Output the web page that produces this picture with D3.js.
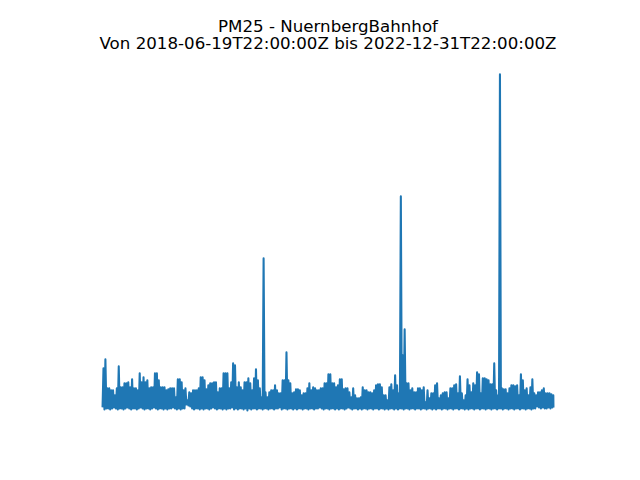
<!DOCTYPE html>
<html>
<head>
<meta charset="utf-8">
<script src="https://cdn.jsdelivr.net/npm/d3@7"></script>
<style>
  html, body { margin: 0; padding: 0; background: #fff; }
  svg { display: block; }
</style>
</head>
<body>
<svg id="chart" width="640" height="480"></svg>
<script>
// ---- data (weekly min / max of hourly PM2.5 readings) ----
const titleLines = ["PM25 - NuernbergBahnhof", "Von 2018-06-19T22:00:00Z bis 2022-12-31T22:00:00Z"];
const startDate = "2018-06-19T22:00:00Z";
const endDate = "2022-12-31T22:00:00Z";

const weeklyMax = [
  42,51,22,22,20,20,15,22,44,23,
  23,27,27,28,23,31,22,22,20,37,
  28,33,28,30,22,23,23,37,37,30,
  23,23,23,20,21,22,22,22,13,31,
  31,28,20,22,10,18,17,20,20,20,
  22,33,33,30,21,25,27,27,28,28,
  18,22,22,37,37,37,22,28,47,45,
  23,28,23,20,28,28,32,27,20,32,
  41,30,22,13,152,18,13,18,20,20,
  25,20,17,17,30,30,58,30,27,17,
  18,21,21,20,15,17,17,22,27,20,
  23,22,20,20,22,22,27,27,36,36,
  27,27,23,25,31,31,21,22,22,18,
  13,22,15,12,12,13,23,20,20,18,
  18,17,20,25,26,26,23,15,15,10,
  23,26,20,35,25,17,214,55,81,27,
  27,20,22,18,18,22,22,20,23,8,
  20,12,17,17,25,27,12,15,17,18,
  18,12,22,22,25,26,17,34,17,10,
  15,31,25,18,27,25,38,36,17,32,
  32,31,30,26,26,47,20,15,336,22,
  21,21,17,22,25,25,24,25,15,36,
  30,20,22,15,23,31,17,15,18,18,
  20,22,17,17,17,16,15
];

const weeklyMin = [
  3,1,2,2,1,2,3,2,1,2,
  2,1,2,3,2,1,2,2,1,2,
  3,2,1,2,2,1,2,3,2,1,
  2,2,1,2,1,2,2,3,2,1,
  2,1,2,2,6,5,4,2,1,2,
  2,1,2,1,2,2,1,2,3,2,
  1,2,2,1,2,1,2,2,3,1,
  2,1,2,2,1,2,0,2,1,2,
  2,1,2,2,1,2,2,1,2,2,
  1,2,2,3,1,2,2,1,2,2,
  1,2,1,2,2,1,2,2,1,2,
  2,1,2,2,3,2,1,2,2,1,
  2,2,1,2,1,2,2,1,2,3,
  2,1,2,2,1,2,1,2,2,1,
  2,2,1,2,2,1,2,2,1,2,
  1,2,2,1,2,1,2,2,1,2,
  2,1,2,2,1,2,2,1,2,2,
  1,2,2,1,2,1,2,2,1,2,
  2,1,2,2,1,2,2,1,2,2,
  1,2,1,2,2,1,2,2,1,2,
  2,1,2,2,1,2,2,1,2,2,
  1,2,2,1,2,2,1,2,2,1,
  2,2,1,2,2,1,2,2,4,3,
  2,3,2,2,3,2,3
];

// ---- build the series: each week contributes its low and its high ----
const t0 = new Date(startDate), t1 = new Date(endDate);
const DAY = 86400000;
const series = [];
weeklyMax.forEach((mx, i) => {
  const ws = new Date(t0.getTime() + i * 7 * DAY);
  series.push({ t: ws, v: weeklyMin[i] });
  series.push({ t: new Date(ws.getTime() + 3.5 * DAY), v: mx });
});
series.push({ t: t1, v: weeklyMin[weeklyMin.length - 1] });

// ---- layout (matplotlib-like axes box, axis hidden, 5% data margins) ----
const W = 640, H = 480;
const ax = { left: 0.125 * W, right: 0.9 * W, top: (1 - 0.88) * H, bottom: (1 - 0.11) * H };
const padX = (ax.right - ax.left) * 0.05 / 1.1;
const padY = (ax.bottom - ax.top) * 0.05 / 1.1;

const x = d3.scaleUtc()
  .domain(d3.extent(series, d => d.t))
  .range([ax.left + padX, ax.right - padX]);
const y = d3.scaleLinear()
  .domain(d3.extent(series, d => d.v))
  .range([ax.bottom - padY, ax.top + padY]);

const svg = d3.select("#chart");

svg.append("path")
  .datum(series)
  .attr("fill", "none")
  .attr("stroke", "#1f77b4")
  .attr("stroke-width", 2.08)
  .attr("stroke-linejoin", "round")
  .attr("stroke-linecap", "butt")
  .attr("d", d3.line().x(d => x(d.t)).y(d => y(d.v)));

// ---- title ----
const cx = (ax.left + ax.right) / 2;
const title = svg.append("text")
  .attr("x", cx)
  .attr("text-anchor", "middle")
  .attr("font-family", "DejaVu Sans, sans-serif")
  .attr("font-size", 16.67)
  .attr("fill", "#000");
title.selectAll("tspan")
  .data(titleLines)
  .join("tspan")
  .attr("x", cx)
  .attr("y", (d, i) => 32.4 + i * 16.9)
  .text(d => d);
</script>
</body>
</html>
